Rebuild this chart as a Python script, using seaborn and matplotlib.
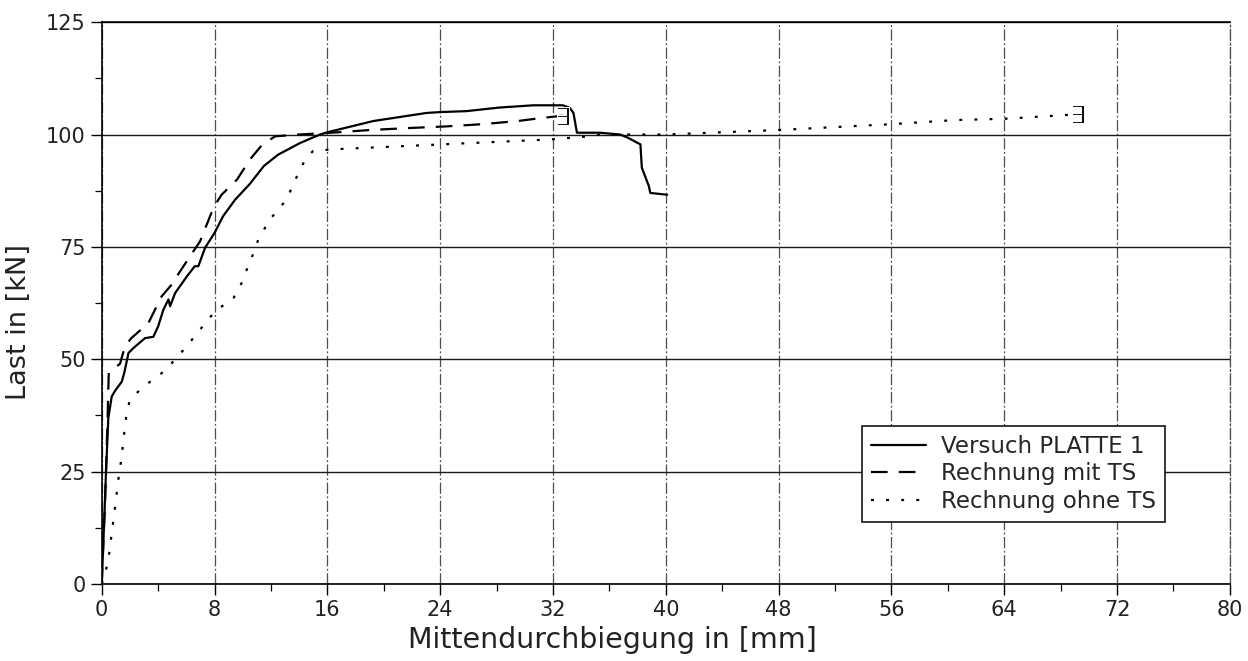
import matplotlib
matplotlib.use("Agg")
import matplotlib.pyplot as plt
import seaborn as sns
import pandas as pd
from matplotlib.ticker import MultipleLocator

# --- data ---
versuch_x = [0.0, 0.1, 0.2, 0.3, 0.47, 0.71, 0.95, 1.42, 1.6, 1.9, 2.25, 3.07, 3.66, 4.0, 4.37,
             4.73, 4.85, 5.2, 6.03, 6.6, 6.85, 7.33, 8.0, 8.6, 9.46, 10.5, 11.5, 12.5, 14.06,
             15.48, 16.0, 19.26, 23.04, 24.07, 25.86, 28.2, 30.6, 32.7, 33.2, 33.45, 33.7,
             35.3, 36.76, 37.3, 38.2, 38.3, 38.8, 38.9, 40.1]
versuch_y = [0.0, 8.0, 16.0, 24.6, 37.0, 41.7, 43.0, 45.0, 47.0, 51.4, 52.5, 54.7, 55.0, 57.3, 61.0,
             63.3, 61.8, 64.7, 68.4, 70.7, 70.7, 74.8, 78.1, 81.8, 85.5, 89.0, 93.0, 95.5, 98.1,
             100.0, 100.5, 103.0, 104.8, 105.0, 105.2, 106.0, 106.5, 106.5, 105.9, 104.8, 100.4,
             100.4, 100.0, 99.3, 97.8, 92.6, 88.5, 87.0, 86.6]

mit_ts_x = [0.0, 0.24, 0.4, 0.5, 1.3, 1.65, 2.1, 3.3, 4.25, 4.96, 5.4, 6.26, 6.97, 7.68, 7.97,
            8.5, 9.6, 10.5, 11.4, 12.3, 14.0, 16.8, 19.0, 21.5, 24.4, 27.0, 29.5, 31.0, 32.7]
mit_ts_y = [0.0, 18.7, 35.0, 47.0, 49.0, 52.9, 54.7, 58.0, 64.0, 66.6, 68.8, 72.9, 76.2, 81.8, 84.0,
            86.6, 90.0, 94.4, 97.8, 99.6, 100.0, 100.5, 101.0, 101.4, 101.8, 102.3, 103.0, 103.6, 104.2]

ohne_ts_x = [0.0, 0.24, 0.47, 0.71, 0.95, 1.18, 1.42, 1.54, 1.65, 1.77, 2.0, 2.72, 3.43, 4.25, 5.08,
             6.03, 6.97, 8.04, 9.34, 9.93, 10.28, 10.76, 11.1, 11.9, 13.1, 14.06, 14.5, 14.98,
             16.4, 24.07, 31.8, 34.2, 35.4, 40.0, 48.0, 56.0, 60.4, 64.0, 69.2]
ohne_ts_y = [0.0, 2.4, 5.3, 11.3, 17.2, 23.2, 28.4, 32.1, 35.0, 38.0, 41.0, 43.2, 45.0, 46.9, 49.5,
             52.9, 56.6, 60.7, 63.6, 67.0, 69.9, 73.6, 76.6, 81.0, 85.5, 92.2, 94.8, 96.3,
             96.7, 97.8, 98.9, 99.5, 100.0, 100.0, 101.0, 102.3, 103.2, 103.5, 104.5]

labels = ["Versuch PLATTE 1", "Rechnung mit TS", "Rechnung ohne TS"]
x_ticks = list(range(0, 81, 8))
y_ticks = [0, 25, 50, 75, 100, 125]

df1 = pd.DataFrame({"x": versuch_x, "y": versuch_y})
df2 = pd.DataFrame({"x": mit_ts_x, "y": mit_ts_y})
df3 = pd.DataFrame({"x": ohne_ts_x, "y": ohne_ts_y})

sns.set_theme(style="white")
plt.rcParams["font.family"] = ["DejaVu Sans"]

fig = plt.figure(figsize=(12.48, 6.61), dpi=100)
ax = fig.add_axes([0.0815, 0.1165, 0.904, 0.850])

lw = 1.6
sns.lineplot(data=df1, x="x", y="y", ax=ax, sort=False, estimator=None, color="black",
             lw=lw, label=labels[0])
sns.lineplot(data=df2, x="x", y="y", ax=ax, sort=False, estimator=None, color="black",
             lw=lw, label=labels[1], dashes=False)
sns.lineplot(data=df3, x="x", y="y", ax=ax, sort=False, estimator=None, color="black",
             lw=lw, label=labels[2], dashes=False)
lines = ax.get_lines()
lines[1].set_linestyle((0, (7.5, 5)))
lines[2].set_linestyle((0, (1.3, 5.5)))

# end markers of the computed curves
for ln in lines[1:3]:
    ln.set_marker(r"$\exists$")
    ln.set_markevery([-1])
    ln.set_markersize(13)
    ln.set_markeredgewidth(0.8)

ax.set_xlim(0, 80)
ax.set_ylim(0, 125)
ax.set_xticks(x_ticks)
ax.set_yticks(y_ticks)
ax.xaxis.set_minor_locator(MultipleLocator(4))
ax.yaxis.set_minor_locator(MultipleLocator(12.5))
ax.tick_params(axis="both", which="major", direction="out", length=8, width=1.0,
               color="black", labelsize=15, labelcolor="#222222", left=True, bottom=True)
ax.tick_params(axis="both", which="minor", direction="out", length=5, width=0.9,
               color="black", left=True, bottom=True)

ax.xaxis.grid(True, which="major", color="0.3", lw=0.9, linestyle=(0, (9, 2, 1.5, 2)))
ax.yaxis.grid(True, which="major", color="0.1", lw=1.0, linestyle="-")

for s in ["left", "bottom", "top"]:
    ax.spines[s].set_color("black")
    ax.spines[s].set_linewidth(1.2)
ax.spines["right"].set_color("0.3")
ax.spines["right"].set_linewidth(0.9)
ax.spines["right"].set_linestyle((0, (9, 2, 1.5, 2)))

ax.set_xlabel("Mittendurchbiegung in [mm]", fontsize=20.5, color="#222222", labelpad=8)
ax.set_ylabel("Last in [kN]", fontsize=19.5, color="#222222", labelpad=22)
ax.xaxis.set_label_coords(0.453, -0.075)
ax.yaxis.set_label_coords(-0.062, 0.466)

leg = ax.legend(loc="lower right", bbox_to_anchor=(0.9426, 0.110), borderaxespad=0,
                fontsize=16.5, frameon=True, fancybox=False, edgecolor="black", framealpha=1,
                handlelength=2.4, borderpad=0.4, labelspacing=0.2, handletextpad=0.65)
leg.get_frame().set_linewidth(1.1)
for lh in leg.get_lines():
    lh.set_marker("")

fig.savefig("out.png", dpi=100, facecolor="white")
